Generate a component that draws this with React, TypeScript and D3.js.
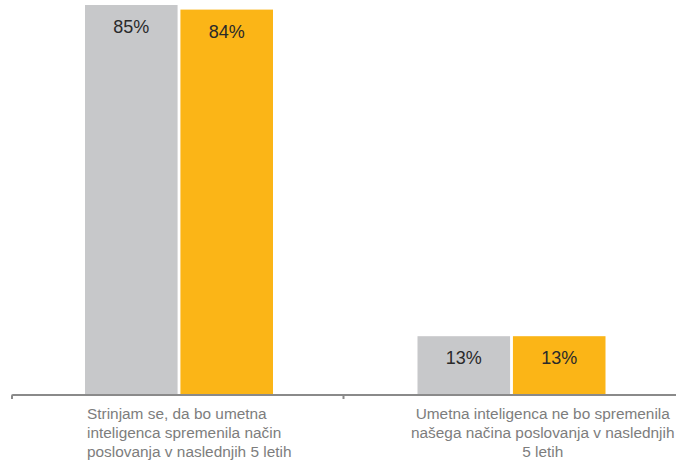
import * as d3 from 'd3';

const W = 676;
const H = 466;

const categories = ['agree', 'disagree'];
const categoryLines = [
  ['Strinjam se, da bo umetna', 'inteligenca spremenila način', 'poslovanja v naslednjih 5 letih'],
  ['Umetna inteligenca ne bo spremenila', 'našega načina poslovanja v naslednjih', '5 letih'],
];
const labelAlign = ['start', 'middle'];
const seriesNames = ['A', 'B'];
const seriesColors = ['#c7c8ca', '#fbb517'];
const valuesA = [85, 13];
const valuesB = [84, 13];

export default function App() {
  const baseline = 396;
  const x0 = d3.scaleBand<string>().domain(categories).range([11, 676]).padding(0);
  const x1 = d3.scaleBand<string>().domain(seriesNames).range([74, 262]).paddingInner(0.03);
  const y = d3.scaleLinear().domain([0, 100]).range([baseline, baseline - 460]);
  const series = [valuesA, valuesB];

  return (
    <div style={{ position: 'absolute', left: 0, top: 0 }}>
      <svg width={W} height={H} style={{ display: 'block', background: '#fff' }}>
        {categories.map((c, ci) => (
          <g key={c} transform={`translate(${x0(c)},0)`}>
            {seriesNames.map((s, si) => {
              const v = series[si][ci];
              const bx = x1(s)!;
              const bw = x1.bandwidth();
              return (
                <g key={s}>
                  <rect x={bx} y={y(v)} width={bw} height={baseline - y(v)} fill={seriesColors[si]} />
                  <text
                    x={bx + bw / 2}
                    y={y(v) + 28}
                    textAnchor="middle"
                    fontFamily="Liberation Sans, Arial, sans-serif"
                    fontSize={18}
                    fill="#2a2a2a"
                  >
                    {v}%
                  </text>
                </g>
              );
            })}
          </g>
        ))}
        {/* axis */}
        <path d={`M12,399 L12,396 Q12,395 13,395 L676,395`} fill="none" stroke="#8a8a8a" strokeWidth={2} />
        <line x1={x0('disagree')} x2={x0('disagree')} y1={395} y2={399} stroke="#8a8a8a" strokeWidth={2} />
        {categories.map((c, ci) => {
          const start = x0(c)! + 76;
          const mid = x0(c)! + x0.bandwidth() / 2 + 33;
          const align = labelAlign[ci];
          return (
            <text
              key={c}
              fontFamily="Liberation Sans, Arial, sans-serif"
              fontSize={15.4}
              fill="#7d7d7d"
              textAnchor={align}
            >
              {categoryLines[ci].map((line, li) => (
                <tspan key={li} x={align === 'start' ? start : mid} y={419 + li * 19}>
                  {line}
                </tspan>
              ))}
            </text>
          );
        })}
      </svg>
    </div>
  );
}
